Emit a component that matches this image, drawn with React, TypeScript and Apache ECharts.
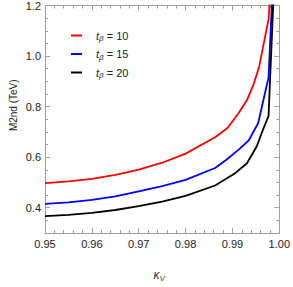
import React, { useEffect, useRef } from "react";
import * as echarts from "echarts";

const seriesNames = ["tβ = 10", "tβ = 15", "tβ = 20"];
const seriesColors = ["#ff0000", "#0000ff", "#000000"];

const kappaRed = [0.95, 0.955, 0.96, 0.965, 0.97, 0.975, 0.98, 0.9863, 0.989, 0.9914, 0.9931, 0.9945, 0.9957, 0.9977, 0.9981];
const m2Red = [0.497, 0.504, 0.514, 0.53, 0.551, 0.578, 0.614, 0.679, 0.716, 0.777, 0.826, 0.888, 0.958, 1.145, 1.26];

const kappaBlue = [0.95, 0.955, 0.96, 0.965, 0.97, 0.975, 0.98, 0.9863, 0.9887, 0.9914, 0.9935, 0.9955, 0.9977, 0.9984, 0.9985];
const m2Blue = [0.415, 0.421, 0.431, 0.445, 0.465, 0.485, 0.51, 0.557, 0.59, 0.631, 0.667, 0.735, 0.915, 1.2, 1.25];

const kappaBlack = [0.95, 0.955, 0.96, 0.965, 0.97, 0.975, 0.98, 0.9863, 0.9904, 0.9931, 0.9952, 0.9965, 0.9977, 0.9987, 0.9988];
const m2Black = [0.367, 0.372, 0.38, 0.391, 0.406, 0.424, 0.447, 0.488, 0.534, 0.576, 0.643, 0.708, 0.762, 1.2, 1.25];

const yTickLabels = [0.4, 0.6, 0.8, 1.0, 1.2];

const FONT = "Liberation Sans, Arial, sans-serif";
const FRAME = "#a0a0a0";

export default function App() {
  const ref = useRef<HTMLDivElement>(null);
  useEffect(() => {
    if (!ref.current) return;
    const chart = echarts.init(ref.current, undefined, { renderer: "svg" });
    const kappas = [kappaRed, kappaBlue, kappaBlack];
    const m2s = [m2Red, m2Blue, m2Black];
    const labelStyle = { color: "#222", fontFamily: FONT, fontSize: 11 };
    const frameAxis = {
      axisLine: { show: true, lineStyle: { color: FRAME, width: 1 } },
      splitLine: { show: false },
    };
    chart.setOption({
      animation: false,
      grid: { left: 37, right: 11, top: 5, bottom: 37, containLabel: false },
      legend: {
        data: seriesNames,
        orient: "vertical",
        left: 66,
        top: 25,
        itemWidth: 11,
        itemHeight: 2,
        itemGap: 6,
        icon: "rect",
        formatter: (name: string) => {
          const rest = name.slice(2);
          return "{t|t}{s|β}{n|" + rest + "}";
        },
        textStyle: {
          fontFamily: FONT,
          fontSize: 11,
          color: "#222",
          rich: {
            t: { fontStyle: "italic", fontSize: 11, fontFamily: FONT, color: "#222", padding: [0, 0, 0, 9] },
            s: { fontStyle: "italic", fontSize: 8, fontFamily: FONT, color: "#222", padding: [6, 0, 0, 0] },
            n: { fontSize: 11, fontFamily: FONT, color: "#222" },
          },
        },
      },
      xAxis: [
        {
          type: "value",
          position: "bottom",
          min: 0.95,
          max: 1.0,
          interval: 0.01,
          ...frameAxis,
          axisTick: { show: true, inside: true, length: 5, lineStyle: { color: FRAME } },
          minorTick: { show: true, splitNumber: 5, length: 3, lineStyle: { color: FRAME } },
          axisLabel: { ...labelStyle, margin: 5, formatter: (v: number) => v.toFixed(2) },
          name: "{k|κ}{v|V}",
          nameLocation: "middle",
          nameGap: 35,
          nameTextStyle: {
            padding: [0, 6, 0, 0],
            rich: {
              k: { fontStyle: "italic", fontSize: 12, fontFamily: FONT, color: "#333" },
              v: { fontStyle: "italic", fontSize: 8, fontFamily: FONT, color: "#333", padding: [6, 0, 0, 0] },
            },
          },
        },
        {
          type: "value",
          position: "top",
          min: 0.95,
          max: 1.0,
          interval: 0.01,
          ...frameAxis,
          axisTick: { show: true, inside: true, length: 5, lineStyle: { color: FRAME } },
          minorTick: { show: true, splitNumber: 5, length: 3, lineStyle: { color: FRAME } },
          axisLabel: { show: false },
        },
      ],
      yAxis: [
        {
          type: "value",
          position: "left",
          min: 0.3,
          max: 1.2,
          interval: 0.05,
          ...frameAxis,
          axisTick: { show: true, inside: true, length: 3, lineStyle: { color: FRAME } },
          axisLabel: { show: false },
          name: "M2nd (TeV)",
          nameLocation: "middle",
          nameGap: 27,
          nameRotate: 90,
          nameTextStyle: { color: "#222", fontFamily: FONT, fontSize: 10, padding: [0, 0, 0, 28] },
        },
        {
          type: "value",
          position: "left",
          min: 0.3,
          max: 1.2,
          interval: 0.05,
          ...frameAxis,
          axisTick: { show: true, inside: true, length: 5, customValues: yTickLabels, lineStyle: { color: FRAME } },
          axisLabel: { ...labelStyle, margin: 4, customValues: yTickLabels, formatter: (v: number) => v.toFixed(1) },
        },
        {
          type: "value",
          position: "right",
          min: 0.3,
          max: 1.2,
          interval: 0.05,
          ...frameAxis,
          axisTick: { show: true, inside: true, length: 3, lineStyle: { color: FRAME } },
          axisLabel: { show: false },
        },
        {
          type: "value",
          position: "right",
          min: 0.3,
          max: 1.2,
          interval: 0.05,
          ...frameAxis,
          axisTick: { show: true, inside: true, length: 5, customValues: yTickLabels, lineStyle: { color: FRAME } },
          axisLabel: { show: false },
        },
      ],
      series: seriesNames.map((name, i) => ({
        name,
        type: "line",
        xAxisIndex: 0,
        yAxisIndex: 0,
        data: kappas[i].map((k, j) => [k, m2s[i][j]]),
        showSymbol: false,
        smooth: false,
        clip: true,
        lineStyle: { color: seriesColors[i], width: 1.8 },
        itemStyle: { color: seriesColors[i] },
      })),
    });
    return () => chart.dispose();
  }, []);
  return (
    <div
      ref={ref}
      style={{ position: "fixed", left: 0, top: 0, width: 293, height: 287, background: "#fff" }}
    />
  );
}
